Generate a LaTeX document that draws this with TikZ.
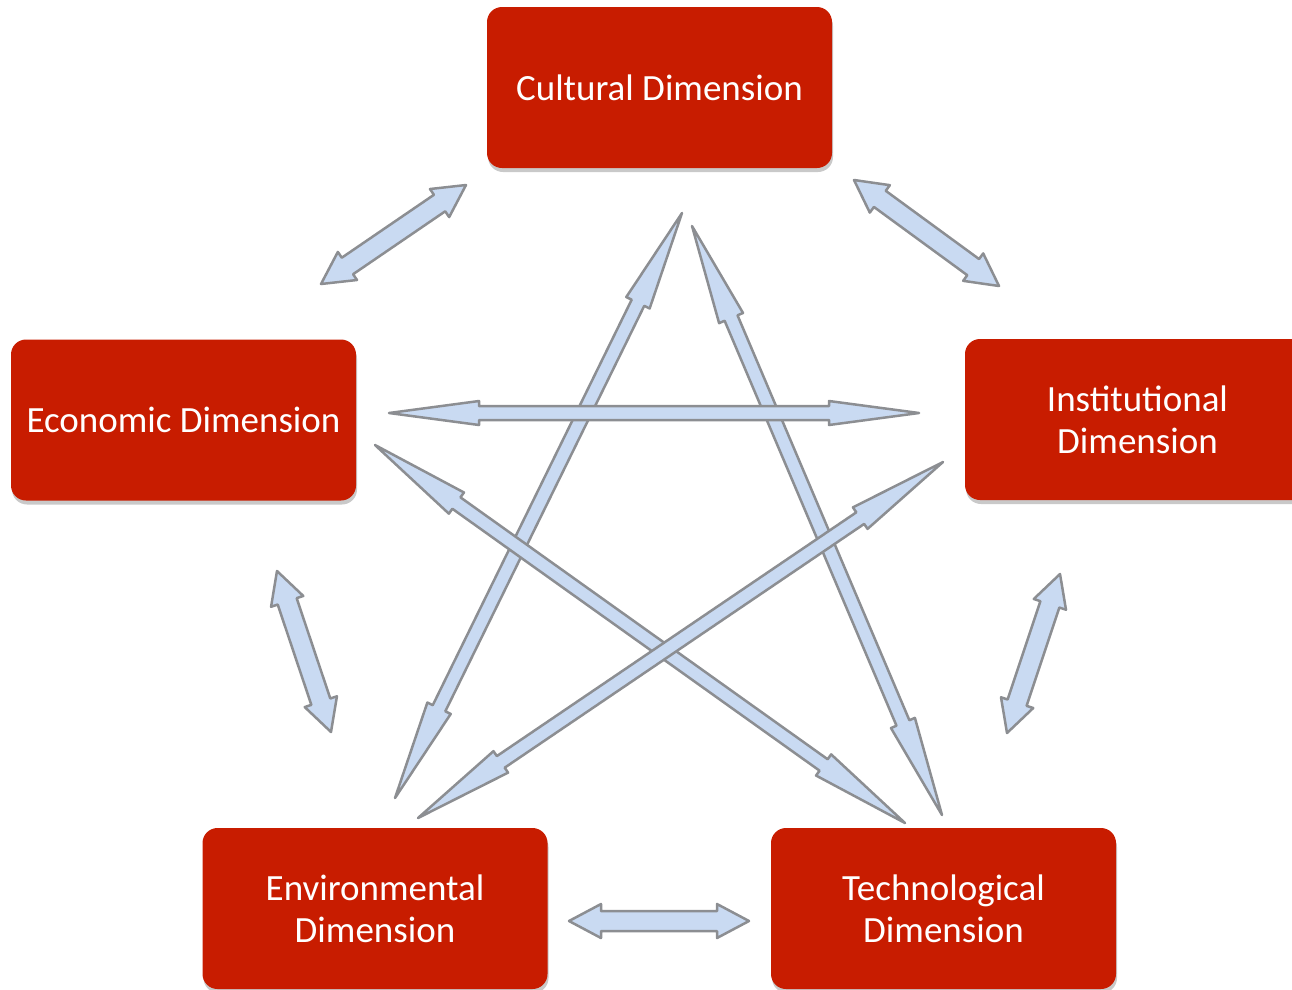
\documentclass[tikz,border=0pt]{standalone}
\usepackage{fontspec}
\setmainfont{Carlito}
\usetikzlibrary{calc,shadows}
\definecolor{boxred}{RGB}{200,28,0}
\definecolor{arrfill}{RGB}{201,218,242}
\definecolor{arrline}{RGB}{140,142,146}
\newcommand\dblarrow[5]{%
  \coordinate (h0) at ($(#1)!#3!(#2)$);
  \coordinate (h1) at ($(#2)!#3!(#1)$);
  \filldraw[blockarrow] (#1) -- ($(h0)!#4!90:(#2)$) -- ($(h0)!#5!90:(#2)$)
    -- ($(h1)!#5!-90:(#1)$) -- ($(h1)!#4!-90:(#1)$) -- (#2)
    -- ($(h1)!#4!90:(#1)$) -- ($(h1)!#5!90:(#1)$)
    -- ($(h0)!#5!-90:(#2)$) -- ($(h0)!#4!-90:(#2)$) -- cycle;}
\tikzset{
  dimbox/.style={rectangle, rounded corners=15pt, fill=boxred, text=white,
    minimum width=345pt, minimum height=161pt, inner sep=0pt, align=center,
    font=\fontsize{37}{42}\selectfont,
    drop shadow={shadow xshift=1pt, shadow yshift=-4pt, opacity=0.3, fill=black!70}},
  blockarrow/.style={fill=arrfill, draw=arrline, line width=2.5pt, line join=round}
}
\begin{document}
\begin{tikzpicture}[x=1pt,y=-1pt]
\useasboundingbox (0,0) rectangle (1292,989);
\clip (0,0) rectangle (1292,989);
\node[dimbox] (cul) at (659.5,87.5) {Cultural Dimension};
\node[dimbox] (eco) at (183.5,420) {Economic Dimension};
\node[dimbox] (ins) at (1137.5,419.5) {Institutional\\Dimension};
\node[dimbox] (env) at (375,908.5) {Environmental\\Dimension};
\node[dimbox] (tec) at (943.5,908.5) {Technological\\Dimension};
% arrow end points
\coordinate (ce1) at (321,284); \coordinate (ce2) at (466,185);
\coordinate (ci1) at (854,180); \coordinate (ci2) at (999,286);
\coordinate (ee1) at (277,571); \coordinate (ee2) at (331,732);
\coordinate (it1) at (1060,574); \coordinate (it2) at (1007,733);
\coordinate (et1) at (569,921); \coordinate (et2) at (749,921);
\coordinate (ei1) at (389,413); \coordinate (ei2) at (919,413);
\coordinate (cv1) at (682,213); \coordinate (cv2) at (395,798);
\coordinate (ct1) at (692,226); \coordinate (ct2) at (942,815);
\coordinate (xt1) at (375,445); \coordinate (xt2) at (905,823);
\coordinate (iv1) at (943,462); \coordinate (iv2) at (418,818);
% short arrows
\dblarrow{ce1}{ce2}{32pt}{17pt}{10pt}
\dblarrow{ci1}{ci2}{32pt}{17pt}{10pt}
\dblarrow{ee1}{ee2}{32pt}{17pt}{10pt}
\dblarrow{it1}{it2}{32pt}{17pt}{10pt}
\dblarrow{et1}{et2}{32pt}{17pt}{10pt}
% long arrows
\dblarrow{cv1}{cv2}{100pt}{13pt}{7pt}
\dblarrow{ct1}{ct2}{100pt}{13pt}{7pt}
\dblarrow{xt1}{xt2}{100pt}{13pt}{7pt}
\dblarrow{iv1}{iv2}{100pt}{13pt}{7pt}
\dblarrow{ei1}{ei2}{90pt}{12pt}{7pt}
\end{tikzpicture}
\end{document}
